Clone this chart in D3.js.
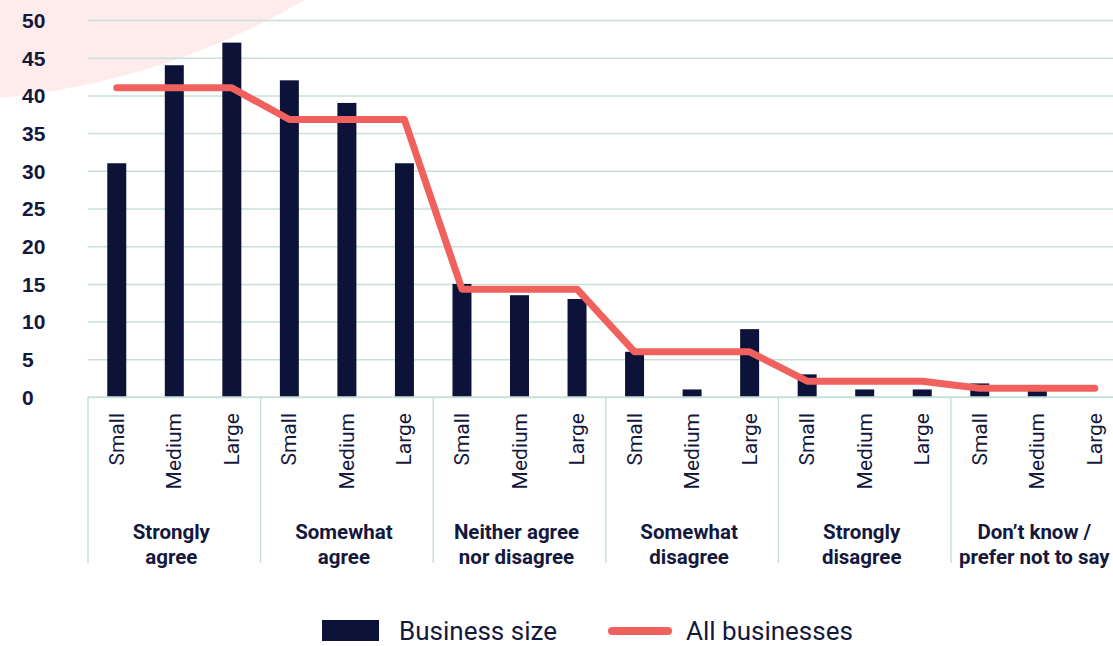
<!DOCTYPE html>
<html>
<head>
<meta charset="utf-8">
<script src="https://d3js.org/d3.v7.min.js"></script>
<style>
  body { margin: 0; background: #fff; }
  svg { display: block; font-family: Roboto, "Noto Sans", sans-serif; }
  .grid line { stroke: #c9e0d9; stroke-width: 1.5; }
  .grid .domain { display: none; }
  .y-label { font-size: 21px; font-weight: 700; fill: #14183d; }
  .size-label { font-size: 21px; fill: #14183d; }
  .group-label { font-size: 20.5px; font-weight: 700; fill: #14183d; }
  .legend-text { font-size: 26px; fill: #14183d; }
</style>
</head>
<body>
<div id="chart"></div>
<script>
// Data
const groups = ["Strongly agree", "Somewhat agree", "Neither agree nor disagree", "Somewhat disagree", "Strongly disagree", "Don’t know / prefer not to say"];
const groupLines = [["Strongly", "agree"], ["Somewhat", "agree"], ["Neither agree", "nor disagree"], ["Somewhat", "disagree"], ["Strongly", "disagree"], ["Don’t know /", "prefer not to say"]];
const sizes = ["Small", "Medium", "Large"];
const smallValues = [31, 42, 15, 6, 3, 1.8];
const mediumValues = [44, 39, 13.5, 1, 1, 1];
const largeValues = [47, 31, 13, 9, 1, 0];
const allBusinesses = [41, 36.8, 14.3, 6, 2.1, 1.15];
const yTicks = [0, 5, 10, 15, 20, 25, 30, 35, 40, 45, 50];

const width = 1113;
const height = 646;
const left = 88;
const groupWidth = 172.6;
const y0px = 397;

const svg = d3.select("#chart").append("svg")
  .attr("width", width)
  .attr("height", height);

// pink background circle
svg.append("circle")
  .attr("cx", -68)
  .attr("cy", -636)
  .attr("r", 737)
  .attr("fill", "#fdeceb");

// Scales
const x0 = d3.scaleBand()
  .domain(groups)
  .range([left, left + groups.length * groupWidth])
  .padding(0);

const x1 = d3.scaleBand()
  .domain(sizes)
  .range([0, x0.bandwidth()])
  .paddingInner(0.67)
  .paddingOuter(0.335);

const y = d3.scaleLinear()
  .domain([0, 50])
  .range([y0px, 20]);

// Gridlines + y labels
const grid = svg.append("g")
  .attr("class", "grid")
  .attr("transform", `translate(${left},0)`)
  .call(d3.axisLeft(y).tickValues(yTicks).tickSize(-(width - left)).tickFormat(d => d));

grid.selectAll(".tick text")
  .attr("class", "y-label")
  .attr("x", 22 - left)
  .attr("text-anchor", "start")
  .attr("dy", "0.35em");

// Bars
const rows = [];
groups.forEach((g, i) => {
  rows.push({ group: g, size: "Small", value: smallValues[i] });
  rows.push({ group: g, size: "Medium", value: mediumValues[i] });
  rows.push({ group: g, size: "Large", value: largeValues[i] });
});

svg.append("g")
  .selectAll("rect")
  .data(rows.filter(d => d.value > 0))
  .join("rect")
  .attr("x", d => x0(d.group) + x1(d.size))
  .attr("y", d => y(d.value))
  .attr("width", x1.bandwidth())
  .attr("height", d => y(0) - y(d.value))
  .attr("fill", "#0c1238");

// Line for all businesses
const linePoints = [];
groups.forEach((g, i) => {
  sizes.forEach(s => linePoints.push({ x: x0(g) + x1(s) + x1.bandwidth() / 2, v: allBusinesses[i] }));
});

svg.append("path")
  .datum(linePoints)
  .attr("d", d3.line().x(d => d.x).y(d => y(d.v)))
  .attr("fill", "none")
  .attr("stroke", "#f0605c")
  .attr("stroke-width", 7)
  .attr("stroke-linecap", "round")
  .attr("stroke-linejoin", "round");

// X axis frame
const axisColor = "#c9e0d9";
svg.append("line")
  .attr("x1", left).attr("x2", width)
  .attr("y1", y(0)).attr("y2", y(0))
  .attr("stroke", axisColor).attr("stroke-width", 1.5);

svg.append("g")
  .selectAll("line")
  .data(groups)
  .join("line")
  .attr("x1", d => x0(d)).attr("x2", d => x0(d))
  .attr("y1", y(0)).attr("y2", 563)
  .attr("stroke", axisColor).attr("stroke-width", 1.5);

// Size labels (rotated)
svg.append("g")
  .selectAll("text")
  .data(rows)
  .join("text")
  .attr("class", "size-label")
  .attr("text-anchor", "end")
  .attr("transform", d => `translate(${x0(d.group) + x1(d.size) + x1.bandwidth() / 2 + 7},413) rotate(-90)`)
  .text(d => d.size);

// Group labels
const gx = d => x0(d) + x0.bandwidth() / 2 - 3;
const gl = svg.append("g")
  .selectAll("text")
  .data(groups)
  .join("text")
  .attr("class", "group-label")
  .attr("text-anchor", "middle")
  .attr("x", gx)
  .attr("y", 539);

gl.each(function(d, i) {
  const t = d3.select(this);
  t.append("tspan").attr("x", gx(d)).text(groupLines[i][0]);
  t.append("tspan").attr("x", gx(d)).attr("dy", 25).text(groupLines[i][1]);
});

// Legend
const legend = svg.append("g");
legend.append("rect")
  .attr("x", 322).attr("y", 620)
  .attr("width", 57).attr("height", 21)
  .attr("fill", "#0c1238");
legend.append("text")
  .attr("class", "legend-text")
  .attr("x", 399).attr("y", 640)
  .text("Business size");
legend.append("line")
  .attr("x1", 612).attr("x2", 668)
  .attr("y1", 631).attr("y2", 631)
  .attr("stroke", "#f0605c")
  .attr("stroke-width", 8)
  .attr("stroke-linecap", "round");
legend.append("text")
  .attr("class", "legend-text")
  .attr("x", 686).attr("y", 640)
  .text("All businesses");
</script>
</body>
</html>
